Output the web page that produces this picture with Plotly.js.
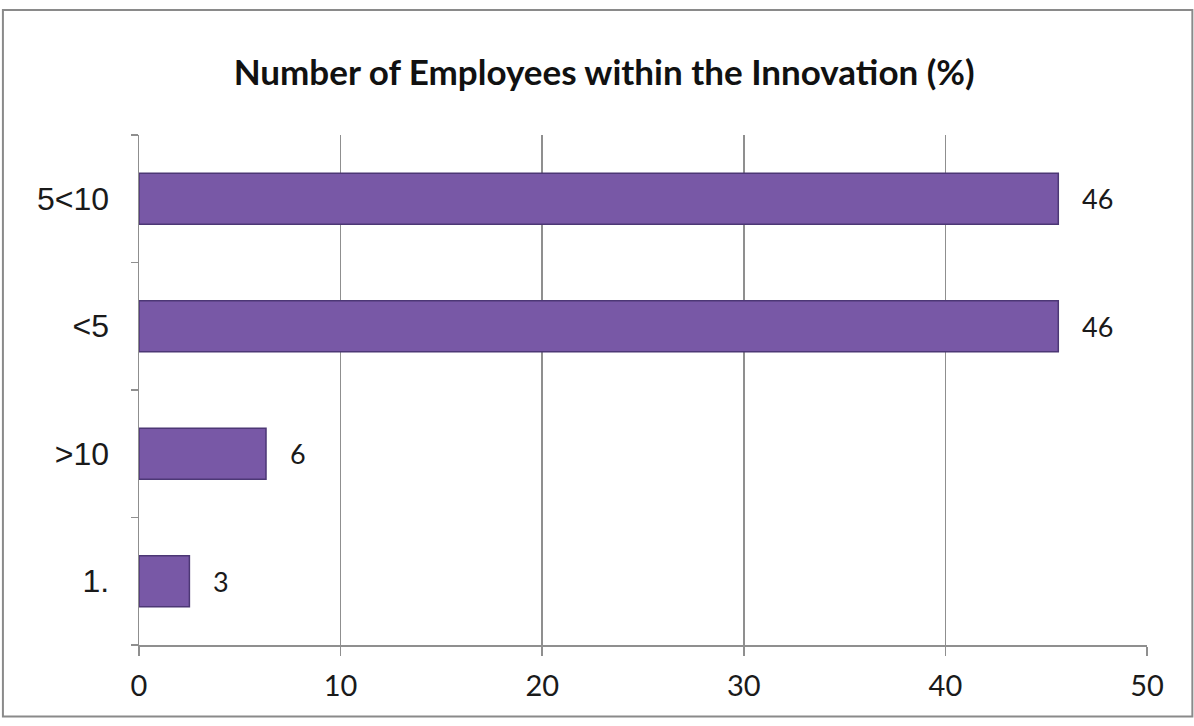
<!DOCTYPE html>
<html>
<head>
<meta charset="utf-8">
<script src="https://cdn.plot.ly/plotly-3.0.1.min.js"></script>
<style>html,body{margin:0;padding:0;background:#fff;}#chart{width:1194px;height:726px;}</style>
</head>
<body>
<div id="chart"></div>
<script>
const categories = ["1.", ">10", "<5", "5<10"];
const values = [2.5, 6.3, 45.6, 45.6];
const valueLabels = ["3", "6", "46", "46"];
const xTicks = [0, 10, 20, 30, 40, 50];

const trace = {
  type: "bar",
  orientation: "h",
  y: categories,
  x: values,
  width: 0.4,
  marker: {color: "#7858a6", line: {color: "#4c3775", width: 1.5}},
  hoverinfo: "none"
};

const annotations = categories.map((c, i) => ({
  x: values[i], y: i, xref: "x", yref: "y",
  text: valueLabels[i], showarrow: false,
  xanchor: "left", xshift: 22,
  font: {family: "Lato, 'Open Sans', sans-serif", size: 27, color: "#1a1a1a"}
}));

const layout = {
  width: 1194, height: 726,
  margin: {l: 139, r: 47, t: 135, b: 81},
  paper_bgcolor: "#ffffff", plot_bgcolor: "#ffffff",
  showlegend: false,
  title: {
    text: "<b>Number of Employees within the Innovation (%)</b>",
    x: 0.506, xref: "container", xanchor: "center",
    y: 0.9, yref: "container", yanchor: "middle",
    font: {family: "Lato, 'Open Sans', sans-serif", size: 35, color: "#111111"}
  },
  xaxis: {
    range: [0, 50], tickvals: xTicks, ticktext: xTicks.map(String),
    showgrid: true, gridcolor: "#8f8f8f", gridwidth: 1.5,
    zeroline: false, showline: true, linecolor: "#8f8f8f", linewidth: 1.5,
    ticks: "outside", ticklen: 9, tickcolor: "#8f8f8f", tickwidth: 1.5,
    ticklabelstandoff: 6,
    tickfont: {family: "Lato, 'Open Sans', sans-serif", size: 29, color: "#1a1a1a"},
    fixedrange: true
  },
  yaxis: {
    type: "category", categoryorder: "array", categoryarray: categories,
    showgrid: false, zeroline: false,
    showline: true, linecolor: "#8f8f8f", linewidth: 1.5,
    ticks: "outside", tickson: "boundaries", ticklen: 7, tickcolor: "#8f8f8f", tickwidth: 1.5,
    ticklabelstandoff: 22,
    tickfont: {family: "'Liberation Sans', Arial, sans-serif", size: 32, color: "#1a1a1a"},
    fixedrange: true
  },
  annotations: annotations,
  shapes: [{
    type: "rect", xref: "paper", yref: "paper",
    x0: -0.135, x1: 1.045, y0: -0.14, y1: 1.245,
    line: {color: "#8a8a8a", width: 2}, fillcolor: "rgba(0,0,0,0)", layer: "below"
  }]
};

Plotly.newPlot("chart", [trace], layout, {displayModeBar: false, staticPlot: true});
</script>
</body>
</html>
